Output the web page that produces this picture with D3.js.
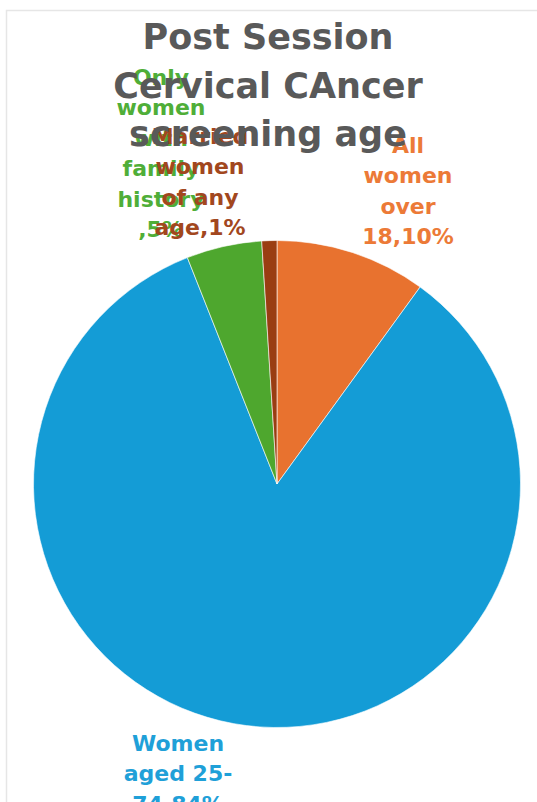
<!DOCTYPE html>
<html>
<head>
<meta charset="utf-8">
<script src="https://cdn.jsdelivr.net/npm/d3@7.9.0/dist/d3.min.js"></script>
<style>
  html, body { margin: 0; padding: 0; background: #fff; overflow: hidden; }
  svg { display: block; }
</style>
</head>
<body>
<svg id="chart" width="537" height="802"></svg>
<script>
// data (clockwise from 12 o'clock)
const categories = ["All women over 18", "Women aged 25-74", "Only women with family history ", "Married women of any age"];
const values = [10, 84, 5, 1];
// how the data labels wrap in the original
const labelLines = [
  ["All", "women", "over", "18,10%"],
  ["Women", "aged 25-", "74,84%"],
  ["Only", "women", "with", "family", "history", ",5%"],
  ["Married", "women", "of any", "age,1%"]
];
const titleLines = ["Post Session", "Cervical CAncer", "screening age"];

const sliceColors = ["#e8722f", "#149cd6", "#4ea72e", "#9a3d12"];
const labelColors = ["#ec7a37", "#1fa0d8", "#4fae38", "#a2471e"];
// label anchor: centre x, centre y of first line
const labelPos = [[408, 145], [178, 743], [161, 77], [200, 136]];

const svg = d3.select("#chart");

// light chart-area border
svg.append("rect")
  .attr("x", 6.5).attr("y", 10.5)
  .attr("width", 600).attr("height", 900)
  .attr("fill", "none")
  .attr("stroke", "#e6e6e6")
  .attr("stroke-width", 1.5);

const data = categories.map((c, i) => ({ label: c, value: values[i] }));

const pie = d3.pie().value((d) => d.value).sort(null);
const arc = d3.arc().innerRadius(0).outerRadius(243.5);

const g = svg.append("g").attr("transform", "translate(277, 484)");

g.selectAll("path")
  .data(pie(data))
  .enter()
  .append("path")
  .attr("d", arc)
  .attr("fill", (_, i) => sliceColors[i])
  .attr("stroke", "#fff")
  .attr("stroke-width", 0.6);

// data labels
const labels = svg.append("g")
  .attr("font-family", "DejaVu Sans, sans-serif")
  .attr("font-weight", "bold")
  .attr("font-size", 22)
  .attr("text-anchor", "middle");

labelLines.forEach((lines, i) => {
  const t = labels.append("text")
    .attr("fill", labelColors[i]);
  lines.forEach((line, j) => {
    t.append("tspan")
      .attr("x", labelPos[i][0])
      .attr("y", labelPos[i][1] + j * 30.5)
      .attr("dy", "0.36em")
      .text(line);
  });
});

// title on top
const title = svg.append("text")
  .attr("font-family", "DejaVu Sans, sans-serif")
  .attr("font-weight", "bold")
  .attr("font-size", 35)
  .attr("fill", "#595959")
  .attr("text-anchor", "middle");

titleLines.forEach((line, j) => {
  title.append("tspan")
    .attr("x", 268)
    .attr("y", 49 + j * 48.5)
    .text(line);
});
</script>
</body>
</html>
